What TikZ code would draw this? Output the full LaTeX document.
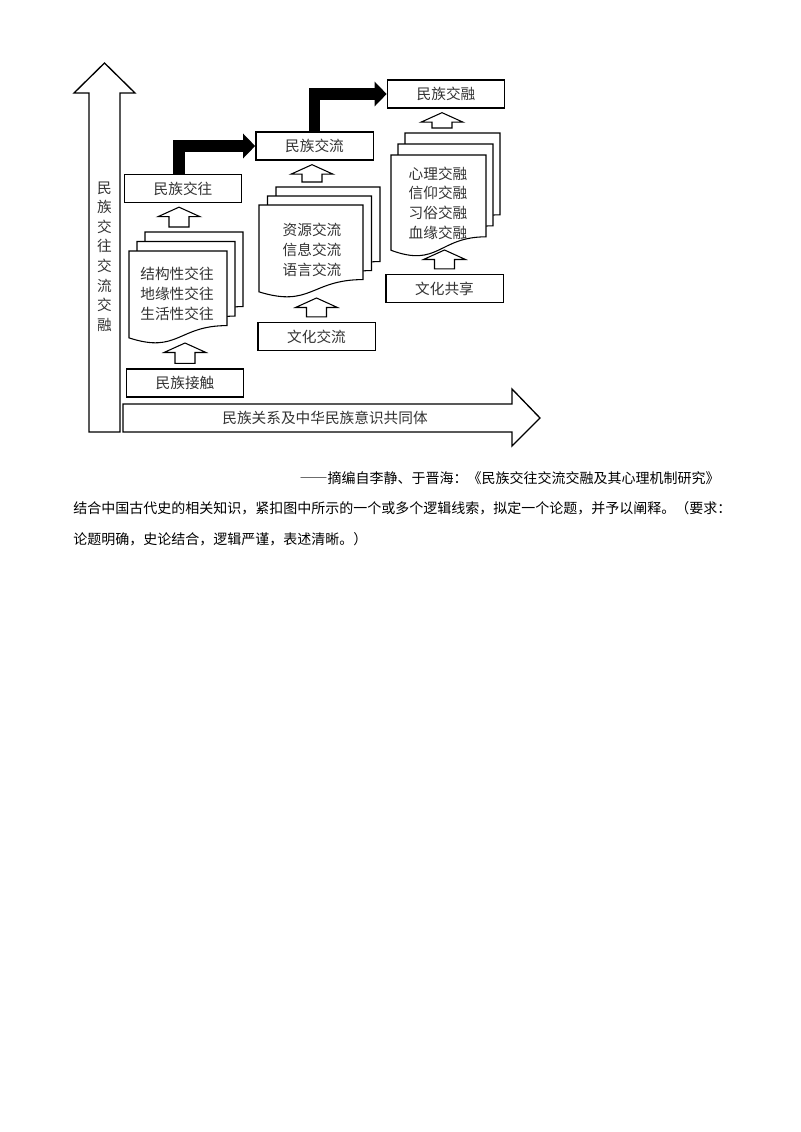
\documentclass[tikz,border=0pt]{standalone}
\usepackage{fontspec}
\newfontfamily\cjk{Noto Sans CJK SC}
\usepackage{tikz}
\usetikzlibrary{calc,arrows.meta}
\tikzset{
	box/.style={draw, line width=1pt, fill=white, minimum width=88pt, minimum height=21pt, inner sep=0pt, text=black!80, font=\cjk\fontsize{11pt}{14.8pt}\selectfont},
	doctext/.style={align=center, inner sep=0pt, text=black!80, font=\cjk\fontsize{11pt}{14.8pt}\selectfont},
	page/.style={draw, line width=0.8pt, fill=white},
	hollow/.style={draw, line width=0.8pt, fill=white},
	bigarrow/.style={draw, line width=1pt, fill=white},
	flow/.style={line width=8.6pt, -{Triangle[length=9pt,width=18pt]}},
	body/.style={inner sep=0pt, font=\cjk\fontsize{10.5pt}{14pt}\selectfont}
}
\def\docpage(#1,#2)(#3,#4){\draw[page] ({#1},{(#2)+0.934*((#4)-(#2))}) -- ({#1},{#2}) -- ({#3},{#2}) -- ({#3},{(#2)+0.802*((#4)-(#2))}) .. controls ({((#1)+(#3))/2},{(#2)+0.802*((#4)-(#2))}) and ({((#1)+(#3))/2},{(#2)+1.107*((#4)-(#2))}) .. ({#1},{(#2)+0.934*((#4)-(#2))}) -- cycle;}
\def\docstack(#1,#2)(#3,#4)(#5,#6){\docpage({#1+2*(#5)},{#2+2*(#6)})({#3+2*(#5)},{#4+2*(#6)})\docpage({#1+(#5)},{#2+(#6)})({#3+(#5)},{#4+(#6)})\docpage(#1,#2)(#3,#4)}
\def\hollowup(#1)(#2){\draw[hollow] ($(#1)+(-10,-5)$) -- ($(#1 |- #2)+(-10,13.5)$) -- ($(#1 |- #2)+(-21,13.5)$) -- ($(#1 |- #2)+(0,4)$) -- ($(#1 |- #2)+(21,13.5)$) -- ($(#1 |- #2)+(10,13.5)$) -- ($(#1)+(10,-5)$) -- cycle;}

\begin{document}
\begin{tikzpicture}[x=0.75pt, y=-0.75pt]
			%%%%% START %%%%%
			\useasboundingbox (0,0) rectangle (800,1132);
			
			\draw[bigarrow] (89,432) -- (89,93) -- (74,93) -- (104.5,63) -- (135,93) -- (120,93) -- (120,432) -- cycle;
			\node[doctext, font=\cjk\fontsize{11pt}{14.7pt}\selectfont] (axisv) at (104.5,256.5) {民\\族\\交\\往\\交\\流\\交\\融};
			
			\draw[bigarrow] (123,404) -- (512,404) -- (512,389) -- (540,418) -- (512,446) -- (512,432) -- (123,432) -- cycle;
			\node[doctext] (axish) at (325,418) {民族关系及中华民族意识共同体};
			
			\docstack(129,251)(227,344)(8,-9.5)
			\docstack(259,205)(363,298)(8.5,-9)
			\docstack(391,155)(486,257)(7,-11)
			
			\node[doctext] (t1) at (177,294) {结构性交往\\地缘性交往\\生活性交往};
			\node[doctext] (t2) at (312,250) {资源交流\\信息交流\\语言交流};
			\node[doctext] (t3) at (438,203) {心理交融\\信仰交融\\习俗交融\\血缘交融};
			
			\coordinate (d1t) at (179,232);
			\coordinate (d1b) at (182,339);
			\coordinate (d2t) at (312,187);
			\coordinate (d2b) at (315,294);
			\coordinate (d3t) at (442,133);
			\coordinate (d3b) at (442,246);
			
			\node[box] (jiechu) at (185,383) {民族接触};
			\node[box] (jiaowang) at (183,188.5) {民族交往};
			\node[box] (jiaoliu) at (314.5,146) {民族交流};
			\node[box] (jiaorong) at (446,94) {民族交融};
			\node[box] (wenhuajl) at (316.5,336.5) {文化交流};
			\node[box] (gongxiang) at (444.5,288.5) {文化共享};
			
			\hollowup(jiechu.north)(d1b)
			\hollowup(d1t)(jiaowang.south)
			\hollowup(wenhuajl.north)(d2b)
			\hollowup(d2t)(jiaoliu.south)
			\hollowup(gongxiang.north)(d3b)
			\hollowup(d3t)(jiaorong.south)
			
			\draw[flow] ([xshift=-3pt]jiaowang.north) |- (jiaoliu.west);
			\draw[flow] (jiaoliu.north) |- (jiaorong.west);
			
			\node[body, anchor=east] (source) at (720,478) {{\addfontfeatures{RawFeature=+fwid}——}摘编自李静、于晋海：《民族交往交流交融及其心理机制研究》};
			\node[body, anchor=west] (q1) at (73,508) {结合中国古代史的相关知识，紧扣图中所示的一个或多个逻辑线索，拟定一个论题，并予以阐释。（要求：};
			\node[body, anchor=west] (q2) at (73,539) {论题明确，史论结合，逻辑严谨，表述清晰。）};
			
			%%%%% END %%%%%
\end{tikzpicture}
\end{document}
